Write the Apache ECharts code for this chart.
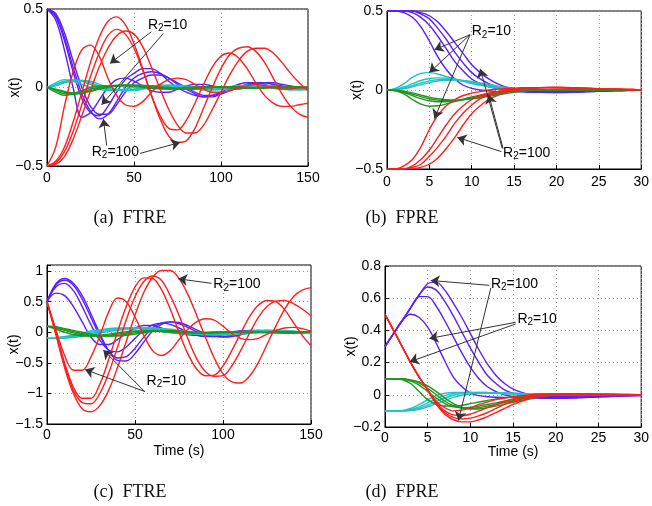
<!DOCTYPE html>
<html><head><meta charset="utf-8">
<script src="https://cdn.jsdelivr.net/npm/echarts@6/dist/echarts.min.js"></script>
<style>html,body{margin:0;padding:0;background:#fff}#c{width:652px;height:506px}</style>
</head><body><div id="c"></div>
<script>
// ---------- x samples ----------
const tLong = [0,5,10,15,20,25,30,35,40,45,50,55,60,65,70,75,80,85,90,95,100,105,110,115,120,125,130,135,140,145,150];
const tShort = [0,1,2,3,4,5,6,7,8,9,10,11,12,13,14,15,16,17,18,19,20,21,22,23,24,25,26,27,28,29,30];

// ---------- tick labels ----------
const aXTicks = [0,50,100,150];   const aYTicks = [-0.5,0,0.5];
const bXTicks = [0,5,10,15,20,25,30]; const bYTicks = [-0.5,0,0.5];
const cXTicks = [0,50,100,150];   const cYTicks = [-1.5,-1,-0.5,0,0.5,1]; const cYMax = 1.1;
const dXTicks = [0,5,10,15,20,25,30]; const dYTicks = [-0.2,0,0.2,0.4,0.6,0.8];

// ---------- panel (a) FTRE ----------
const aBlue = [
 [0.50,0.43,0.24,0.00,-0.19,-0.16,-0.08,0.00,0.05,0.06,0.04,0.01,-0.02,-0.03,-0.03,-0.01,0.01,0.02,0.02,0.01,0.00,-0.01,-0.01,0.00,0.01,0.01,0.01,0.00,0.00,0.00,0.00],
 [0.50,0.45,0.30,0.10,-0.07,-0.16,-0.18,-0.12,-0.03,0.05,0.09,0.12,0.12,0.09,0.04,0.00,-0.03,-0.05,-0.06,-0.05,-0.03,0.00,0.02,0.03,0.03,0.02,0.00,-0.01,-0.01,-0.01,0.00],
 [0.50,0.46,0.32,0.13,-0.04,-0.15,-0.20,-0.17,-0.09,0.00,0.06,0.09,0.10,0.09,0.06,0.02,-0.01,-0.04,-0.06,-0.06,-0.04,-0.02,0.00,0.02,0.03,0.03,0.02,0.01,0.00,-0.01,-0.01],
 [0.50,0.47,0.35,0.17,0.00,-0.12,-0.17,-0.17,-0.11,-0.03,0.03,0.06,0.08,0.08,0.06,0.03,0.00,-0.03,-0.05,-0.05,-0.04,-0.02,0.00,0.02,0.03,0.03,0.03,0.02,0.01,0.00,-0.01]
];
const aRed = [
 [-0.50,-0.38,-0.12,0.10,0.24,0.27,0.20,0.06,-0.05,-0.11,-0.12,-0.09,-0.03,0.02,0.05,0.06,0.05,0.02,-0.01,-0.03,-0.03,-0.02,0.00,0.01,0.02,0.01,0.00,-0.01,-0.01,0.00,0.00],
 [-0.50,-0.47,-0.38,-0.22,-0.03,0.16,0.32,0.42,0.45,0.40,0.28,0.12,-0.05,-0.18,-0.26,-0.27,-0.21,-0.10,0.02,0.13,0.20,0.22,0.19,0.12,0.03,-0.05,-0.10,-0.12,-0.12,-0.11,-0.10],
 [-0.50,-0.48,-0.41,-0.28,-0.11,0.07,0.22,0.33,0.37,0.34,0.25,0.11,-0.05,-0.20,-0.31,-0.35,-0.34,-0.26,-0.13,0.00,0.12,0.21,0.25,0.26,0.23,0.16,0.06,-0.04,-0.12,-0.17,-0.19],
 [-0.50,-0.49,-0.44,-0.33,-0.18,-0.02,0.13,0.25,0.33,0.36,0.34,0.26,0.13,-0.01,-0.14,-0.24,-0.29,-0.29,-0.24,-0.14,-0.03,0.08,0.17,0.23,0.25,0.25,0.22,0.16,0.09,0.03,-0.02]
];
const aGreen = [
 [0,-0.03,-0.05,-0.04,-0.02,0,0.01,0.01,0.01,0.01,0.01,0,-0.005,-0.01,-0.01,-0.005,0,0.005,0.005,0.005,0,0,-0.005,-0.005,0,0,0.005,0.005,0,0,0],
 [0,-0.02,-0.04,-0.045,-0.03,-0.01,0,0.01,0.015,0.015,0.01,0.01,0,-0.005,-0.01,-0.01,-0.005,0,0.005,0.005,0.005,0,-0.005,-0.005,-0.005,0,0.005,0.005,0.005,0,0],
 [0,-0.015,-0.03,-0.04,-0.035,-0.02,-0.005,0.005,0.01,0.015,0.015,0.01,0.005,0,-0.005,-0.01,-0.01,-0.005,0,0.005,0.005,0.005,0,-0.005,-0.005,0,0,0.005,0.005,0,0],
 [0,-0.01,-0.025,-0.035,-0.035,-0.025,-0.01,0,0.01,0.015,0.015,0.015,0.01,0.005,0,-0.005,-0.01,-0.01,-0.005,0,0.005,0.005,0.005,0,-0.005,-0.005,0,0,0.005,0.005,0]
];
const aCyan = [
 [0,0.03,0.05,0.04,0.02,0,-0.01,-0.02,-0.015,-0.01,0,0.005,0.01,0.01,0.005,0,-0.005,-0.01,-0.01,-0.005,0,0.005,0.01,0.01,0.005,0,-0.005,-0.01,-0.01,-0.005,0],
 [0,0.02,0.04,0.05,0.04,0.02,0,-0.01,-0.02,-0.02,-0.01,0,0.01,0.015,0.01,0.005,-0.005,-0.01,-0.015,-0.01,-0.005,0.005,0.01,0.015,0.01,0.005,-0.005,-0.01,-0.015,-0.01,-0.005],
 [0,0.015,0.035,0.045,0.045,0.03,0.01,-0.005,-0.015,-0.02,-0.015,-0.005,0.005,0.015,0.015,0.01,0,-0.01,-0.015,-0.015,-0.01,0,0.01,0.015,0.015,0.01,0,-0.01,-0.015,-0.015,-0.01],
 [0,0.01,0.03,0.04,0.045,0.04,0.02,0.005,-0.01,-0.02,-0.02,-0.01,0,0.01,0.015,0.015,0.01,0,-0.01,-0.015,-0.015,-0.01,0,0.01,0.015,0.015,0.01,0,-0.01,-0.015,-0.015]
];
const aLabels = [{x:58, y:0.40, v:'10'}, {x:25.7, y:-0.41, v:'100'}];
const aArrows = [[[60,0.355],[36.2,0.153]], [[66.9,0.345],[31.4,-0.11]], [[34.3,-0.37],[32.4,-0.2]], [[53.4,-0.42],[76.4,-0.35]]];

// ---------- panel (b) FPRE ----------
const bBlue = [
 [0.5,0.5,0.49,0.46,0.40,0.31,0.21,0.13,0.07,0.03,0.01,0,-0.005,-0.01,-0.01,-0.01,-0.01,-0.01,-0.01,-0.01,-0.01,-0.01,-0.008,-0.006,-0.005,-0.004,-0.003,-0.002,-0.001,0,0],
 [0.5,0.5,0.5,0.49,0.46,0.41,0.34,0.26,0.18,0.12,0.07,0.04,0.02,0.01,0,-0.01,-0.012,-0.014,-0.015,-0.015,-0.014,-0.013,-0.012,-0.01,-0.008,-0.006,-0.005,-0.004,-0.003,-0.002,-0.001],
 [0.5,0.5,0.5,0.5,0.48,0.45,0.39,0.32,0.24,0.17,0.11,0.07,0.04,0.02,0.01,0,-0.008,-0.012,-0.015,-0.016,-0.016,-0.015,-0.013,-0.011,-0.009,-0.007,-0.006,-0.004,-0.003,-0.002,-0.001],
 [0.5,0.5,0.5,0.5,0.49,0.47,0.43,0.37,0.30,0.23,0.16,0.11,0.07,0.04,0.02,0.01,0,-0.008,-0.012,-0.015,-0.016,-0.016,-0.015,-0.013,-0.011,-0.009,-0.007,-0.005,-0.004,-0.003,-0.002]
];
const bRed = [
 [-0.5,-0.5,-0.48,-0.44,-0.36,-0.25,-0.16,-0.10,-0.06,-0.035,-0.02,-0.01,0,0.005,0.01,0.012,0.014,0.015,0.015,0.015,0.014,0.012,0.01,0.008,0.007,0.006,0.005,0.004,0.003,0.002,0.001],
 [-0.5,-0.5,-0.5,-0.48,-0.44,-0.38,-0.30,-0.22,-0.15,-0.10,-0.06,-0.035,-0.02,-0.01,0,0.005,0.01,0.012,0.015,0.016,0.016,0.015,0.013,0.011,0.009,0.007,0.006,0.005,0.004,0.003,0.002],
 [-0.5,-0.5,-0.5,-0.49,-0.47,-0.42,-0.36,-0.29,-0.21,-0.145,-0.095,-0.055,-0.03,-0.015,-0.005,0.005,0.01,0.013,0.015,0.016,0.016,0.015,0.014,0.012,0.01,0.008,0.006,0.005,0.004,0.003,0.002],
 [-0.5,-0.5,-0.5,-0.5,-0.49,-0.47,-0.43,-0.37,-0.30,-0.22,-0.15,-0.10,-0.06,-0.035,-0.015,-0.005,0.005,0.01,0.013,0.015,0.016,0.016,0.015,0.013,0.011,0.009,0.007,0.006,0.004,0.003,0.002]
];
const bGreen = [
 [0,-0.005,-0.025,-0.06,-0.09,-0.103,-0.10,-0.088,-0.073,-0.058,-0.044,-0.032,-0.021,-0.012,-0.005,0,0.003,0.003,0.002,0.001,0,0,0,0,0,0,0,0,0,0,0],
 [0,-0.004,-0.016,-0.036,-0.055,-0.068,-0.074,-0.074,-0.069,-0.06,-0.05,-0.039,-0.028,-0.018,-0.01,-0.004,0,0.002,0.002,0.001,0,0,0,0,0,0,0,0,0,0,0],
 [0,-0.003,-0.011,-0.026,-0.042,-0.055,-0.064,-0.068,-0.067,-0.062,-0.054,-0.045,-0.035,-0.025,-0.016,-0.009,-0.004,0,0.001,0.001,0,0,0,0,0,0,0,0,0,0,0],
 [0,-0.002,-0.007,-0.018,-0.032,-0.045,-0.055,-0.061,-0.063,-0.061,-0.056,-0.049,-0.04,-0.031,-0.022,-0.014,-0.008,-0.003,0,0.001,0,0,0,0,0,0,0,0,0,0,0]
];
const bCyan = [
 [0,0.01,0.04,0.08,0.105,0.11,0.10,0.085,0.07,0.055,0.04,0.03,0.02,0.01,0.005,0,0,0,0,0,0,0,0,0,0,0,0,0,0,0,0],
 [0,0.005,0.02,0.04,0.06,0.073,0.077,0.075,0.068,0.058,0.047,0.036,0.025,0.016,0.008,0.003,0,0,0,0,0,0,0,0,0,0,0,0,0,0,0],
 [0,0.003,0.012,0.028,0.045,0.058,0.066,0.068,0.065,0.058,0.049,0.039,0.029,0.019,0.011,0.005,0.001,0,0,0,0,0,0,0,0,0,0,0,0,0,0],
 [0,0.002,0.008,0.02,0.034,0.047,0.057,0.062,0.063,0.06,0.054,0.045,0.035,0.025,0.016,0.009,0.004,0.001,0,0,0,0,0,0,0,0,0,0,0,0,0]
];
const bLabels = [{x:10.0, y:0.37, v:'10'}, {x:13.7, y:-0.4, v:'100'}];
const bArrows = [[[9.8,0.35],[5.6,0.254]], [[9.8,0.35],[5.0,0.11]], [[9.8,0.35],[5.6,-0.18]],
                 [[13.5,-0.39],[8.3,-0.30]], [[13.6,-0.37],[11.0,0.134]], [[13.7,-0.37],[12.0,-0.03]]];

// ---------- panel (c) FTRE ----------
const cBlue = [
 [0.5,0.64,0.6,0.42,0.17,-0.08,-0.2,-0.2,-0.12,-0.02,0.07,0.11,0.11,0.07,0.02,-0.02,-0.04,-0.05,-0.04,-0.02,0,0.01,0.02,0.02,0.01,0,-0.01,-0.01,0,0.01,0.01],
 [0.5,0.74,0.8,0.68,0.42,0.12,-0.13,-0.29,-0.32,-0.24,-0.1,0.03,0.12,0.15,0.13,0.07,0,-0.05,-0.07,-0.07,-0.04,-0.01,0.02,0.03,0.03,0.02,0,-0.01,-0.02,-0.01,0],
 [0.5,0.77,0.85,0.77,0.54,0.24,-0.06,-0.3,-0.42,-0.4,-0.26,-0.08,0.07,0.15,0.17,0.14,0.08,0.01,-0.04,-0.07,-0.07,-0.05,-0.02,0.01,0.03,0.03,0.02,0,-0.01,-0.02,-0.01],
 [0.5,0.79,0.88,0.8,0.6,0.3,-0.02,-0.3,-0.46,-0.47,-0.35,-0.16,0.02,0.13,0.17,0.16,0.11,0.04,-0.02,-0.06,-0.08,-0.07,-0.04,-0.01,0.02,0.03,0.03,0.02,0,-0.01,-0.02]
];
const cRed = [
 [0.5,0.05,-0.38,-0.62,-0.62,-0.4,-0.06,0.33,0.56,0.5,0.25,-0.05,-0.3,-0.38,-0.3,-0.12,0.05,0.17,0.22,0.2,0.1,-0.02,-0.1,-0.12,-0.1,-0.03,0.03,0.07,0.08,0.06,0.02],
 [0.5,0,-0.5,-0.9,-1.08,-1.08,-0.85,-0.45,0,0.42,0.74,0.89,0.88,0.7,0.38,0,-0.35,-0.6,-0.71,-0.7,-0.55,-0.3,-0.02,0.25,0.44,0.52,0.5,0.37,0.16,-0.05,-0.22],
 [0.5,-0.02,-0.55,-0.95,-1.15,-1.17,-1.0,-0.67,-0.25,0.2,0.58,0.83,0.92,0.85,0.6,0.28,-0.1,-0.43,-0.64,-0.72,-0.71,-0.55,-0.3,-0.02,0.24,0.42,0.51,0.52,0.47,0.38,0.27],
 [0.5,-0.03,-0.58,-1.0,-1.25,-1.3,-1.2,-0.95,-0.58,-0.15,0.28,0.65,0.9,1.01,1.01,0.88,0.62,0.28,-0.08,-0.42,-0.68,-0.81,-0.83,-0.72,-0.5,-0.2,0.1,0.38,0.58,0.69,0.73]
];
const cGreen = [
 [0.1,0.05,0,-0.04,-0.06,-0.06,-0.05,-0.03,-0.01,0.01,0.02,0.02,0.02,0.01,0,-0.01,-0.01,-0.005,0,0.005,0.005,0,-0.005,-0.005,0,0,0.005,0,0,0,0],
 [0.1,0.07,0.03,-0.01,-0.04,-0.06,-0.06,-0.05,-0.03,-0.01,0.01,0.02,0.03,0.02,0.01,0,-0.01,-0.01,-0.01,0,0.005,0.005,0,-0.005,-0.005,0,0.005,0.005,0,0,0],
 [0.1,0.08,0.05,0.01,-0.02,-0.05,-0.06,-0.06,-0.05,-0.03,-0.01,0.01,0.02,0.03,0.02,0.01,0,-0.01,-0.01,-0.01,0,0.005,0.005,0,-0.005,-0.005,0,0.005,0.005,0,0],
 [0.1,0.09,0.06,0.03,0,-0.03,-0.05,-0.06,-0.06,-0.05,-0.03,-0.01,0.01,0.02,0.03,0.02,0.01,0,-0.01,-0.01,-0.01,0,0.005,0.005,0,-0.005,-0.005,0,0.005,0.005,0]
];
const cCyan = [
 [-0.1,-0.09,-0.07,-0.04,-0.01,0.02,0.04,0.06,0.07,0.07,0.06,0.05,0.03,0.01,-0.01,-0.02,-0.03,-0.03,-0.03,-0.02,-0.01,0,0.01,0.02,0.02,0.02,0.01,0,-0.01,-0.01,-0.01],
 [-0.1,-0.095,-0.08,-0.06,-0.03,0,0.03,0.05,0.06,0.07,0.07,0.06,0.05,0.03,0.01,-0.01,-0.02,-0.03,-0.04,-0.04,-0.03,-0.02,0,0.01,0.02,0.03,0.02,0.01,0,-0.01,-0.02],
 [-0.1,-0.1,-0.09,-0.07,-0.05,-0.02,0.01,0.03,0.05,0.06,0.07,0.07,0.06,0.05,0.03,0.01,-0.01,-0.02,-0.03,-0.04,-0.04,-0.03,-0.02,0,0.01,0.02,0.03,0.02,0.01,0,-0.01],
 [-0.1,-0.1,-0.095,-0.085,-0.065,-0.04,-0.01,0.01,0.03,0.05,0.06,0.07,0.07,0.06,0.05,0.03,0.01,-0.01,-0.02,-0.03,-0.04,-0.04,-0.03,-0.02,0,0.01,0.02,0.03,0.02,0.01,0]
];
const cLabels = [{x:94.5, y:0.78, v:'100'}, {x:56.6, y:-0.80, v:'10'}];
const cArrows = [[[93.5,0.80],[74.6,0.874]], [[55.7,-0.97],[21.6,-0.61]], [[55.5,-0.97],[32,-0.29]]];

// ---------- panel (d) FPRE ----------
const dBlue = [
 [0.3,0.38,0.46,0.5,0.48,0.42,0.32,0.21,0.11,0.05,0.01,-0.005,-0.012,-0.015,-0.016,-0.016,-0.015,-0.014,-0.013,-0.012,-0.011,-0.01,-0.009,-0.008,-0.007,-0.006,-0.005,-0.004,-0.003,-0.002,-0.002],
 [0.3,0.38,0.46,0.54,0.61,0.61,0.55,0.46,0.36,0.26,0.17,0.1,0.05,0.02,0,-0.01,-0.015,-0.018,-0.02,-0.02,-0.019,-0.017,-0.015,-0.013,-0.011,-0.009,-0.008,-0.006,-0.005,-0.004,-0.003],
 [0.3,0.38,0.46,0.54,0.62,0.67,0.65,0.58,0.49,0.39,0.29,0.2,0.12,0.07,0.03,0.01,-0.005,-0.015,-0.02,-0.021,-0.021,-0.02,-0.018,-0.016,-0.014,-0.012,-0.01,-0.008,-0.006,-0.005,-0.004],
 [0.3,0.38,0.46,0.54,0.62,0.69,0.70,0.65,0.57,0.48,0.38,0.28,0.19,0.12,0.07,0.035,0.015,0,-0.01,-0.015,-0.02,-0.021,-0.02,-0.018,-0.016,-0.014,-0.012,-0.01,-0.008,-0.006,-0.005]
];
const dRed = [
 [0.5,0.4,0.3,0.2,0.11,0.03,-0.04,-0.08,-0.1,-0.095,-0.08,-0.06,-0.045,-0.03,-0.02,-0.01,-0.005,0,0.005,0.005,0.005,0.005,0.004,0.003,0.003,0.002,0.002,0.001,0.001,0,0],
 [0.5,0.4,0.3,0.2,0.11,0.03,-0.05,-0.1,-0.125,-0.13,-0.12,-0.1,-0.08,-0.06,-0.04,-0.025,-0.015,-0.005,0,0.005,0.005,0.005,0.005,0.004,0.003,0.003,0.002,0.002,0.001,0.001,0],
 [0.5,0.4,0.3,0.2,0.11,0.03,-0.05,-0.11,-0.14,-0.15,-0.145,-0.13,-0.11,-0.085,-0.06,-0.04,-0.025,-0.012,-0.005,0,0.005,0.005,0.005,0.005,0.004,0.003,0.003,0.002,0.002,0.001,0.001],
 [0.5,0.4,0.3,0.2,0.11,0.03,-0.06,-0.12,-0.155,-0.168,-0.168,-0.155,-0.135,-0.11,-0.085,-0.06,-0.04,-0.025,-0.013,-0.005,0,0.005,0.005,0.005,0.005,0.004,0.003,0.003,0.002,0.002,0.001]
];
const dGreen = [
 [0.1,0.1,0.095,0.07,0.02,-0.03,-0.06,-0.07,-0.07,-0.065,-0.055,-0.045,-0.035,-0.025,-0.02,-0.015,-0.01,-0.005,0,0,0,0,0,0,0,0,0,0,0,0,0],
 [0.1,0.1,0.098,0.085,0.06,0.02,-0.02,-0.055,-0.075,-0.08,-0.078,-0.07,-0.06,-0.05,-0.04,-0.03,-0.02,-0.012,-0.006,-0.002,0,0,0,0,0,0,0,0,0,0,0],
 [0.1,0.1,0.099,0.09,0.072,0.04,0,-0.04,-0.068,-0.082,-0.085,-0.08,-0.07,-0.06,-0.048,-0.037,-0.027,-0.018,-0.01,-0.004,0,0,0,0,0,0,0,0,0,0,0],
 [0.1,0.1,0.1,0.093,0.08,0.055,0.02,-0.02,-0.055,-0.078,-0.088,-0.088,-0.08,-0.07,-0.058,-0.046,-0.034,-0.023,-0.014,-0.007,-0.002,0,0,0,0,0,0,0,0,0,0]
];
const dCyan = [
 [-0.1,-0.1,-0.098,-0.085,-0.06,-0.03,-0.005,0.01,0.015,0.015,0.015,0.012,0.01,0.008,0.006,0.004,0.003,0.002,0.002,0.002,0.002,0.001,0.001,0.001,0.001,0,0,0,0,0,0],
 [-0.1,-0.1,-0.099,-0.092,-0.075,-0.05,-0.025,-0.005,0.008,0.013,0.015,0.015,0.013,0.011,0.009,0.007,0.005,0.004,0.003,0.002,0.002,0.001,0.001,0.001,0.001,0,0,0,0,0,0],
 [-0.1,-0.1,-0.1,-0.096,-0.085,-0.065,-0.042,-0.02,-0.003,0.007,0.012,0.014,0.014,0.013,0.011,0.009,0.007,0.005,0.004,0.003,0.002,0.002,0.001,0.001,0.001,0,0,0,0,0,0],
 [-0.1,-0.1,-0.1,-0.098,-0.09,-0.075,-0.055,-0.035,-0.016,-0.003,0.005,0.01,0.012,0.012,0.011,0.01,0.008,0.006,0.005,0.004,0.003,0.002,0.002,0.001,0.001,0.001,0,0,0,0,0]
];
const dLabels = [{x:12.4, y:0.69, v:'100'}, {x:15.5, y:0.47, v:'10'}];
const dArrows = [[[12.2,0.68],[5.35,0.71]], [[12.4,0.665],[8.6,-0.16]], [[15.3,0.45],[5.2,0.35]], [[15.3,0.44],[2.9,0.205]]];

const captions = ['(a)  FTRE','(b)  FPRE','(c)  FTRE','(d)  FPRE'];

// ---------- build ----------
const COL = {blue:'#5a1eff', cyan:'#1ec3c3', green:'#1e961e', red:'#ff1e1e'};
const FONT = 'Liberation Sans';
const FS = 14;
const panels = [
 {t:tLong,  blue:aBlue, cyan:aCyan, green:aGreen, red:aRed, xt:aXTicks, yt:aYTicks, grid:{left:47,top:9,width:261,height:157}, nameGap:25, xName:'', xm:5, labels:aLabels, arrows:aArrows, cap:[130,218]},
 {t:tShort, blue:bBlue, cyan:bCyan, green:bGreen, red:bRed, xt:bXTicks, yt:bYTicks, grid:{left:387,top:11,width:259,height:158}, nameGap:23, xName:'', xm:6, labels:bLabels, arrows:bArrows, cap:[402,218]},
 {t:tLong,  blue:cBlue, cyan:cCyan, green:cGreen, red:cRed, xt:cXTicks, yt:cYTicks, yMax:cYMax, grid:{left:47,top:265,width:264,height:159}, nameGap:26, xName:'Time (s)', xm:4, xGap:20, labels:cLabels, arrows:cArrows, cap:[130,492]},
 {t:tShort, blue:dBlue, cyan:dCyan, green:dGreen, red:dRed, xt:dXTicks, yt:dYTicks, grid:{left:385,top:266,width:262,height:161}, nameGap:27, xName:'Time (s)', xm:4, xGap:18, labels:dLabels, arrows:dArrows, cap:[402,492]}
];
function fmtNum(v){ const a = Math.abs(v); const s = String(Number(a.toFixed(3))); return (v < -1e-9 ? '\u2212' : '') + s; }
function tickFmt(ticks){ return v => ticks.some(t => Math.abs(t - v) < 1e-9) ? fmtNum(v) : ''; }

const grids = [], xAxes = [], yAxes = [], series = [];
const splitStyle = {show:true, lineStyle:{color:'#9a9a9a', width:1, type:[1,3]}};
panels.forEach((p, i) => {
  grids.push(Object.assign({show:true, borderColor:'#000', borderWidth:1, backgroundColor:'transparent'}, p.grid));
  xAxes.push({type:'value', gridIndex:i, min:p.xt[0], max:p.xt[p.xt.length-1], interval:p.xt[1]-p.xt[0],
    axisLine:{show:true, onZero:false, lineStyle:{color:'#000', width:1}},
    axisTick:{show:true, inside:true, length:4, lineStyle:{color:'#000'}},
    axisLabel:{color:'#000', fontSize:FS, fontFamily:FONT, margin:p.xm, formatter:tickFmt(p.xt), showMaxLabel:true, hideOverlap:false},
    splitLine:splitStyle,
    name:p.xName, nameLocation:'middle', nameGap:p.xGap || 20, nameMoveOverlap:false,
    nameTextStyle:{color:'#000', fontSize:FS, fontFamily:FONT}});
  yAxes.push({type:'value', gridIndex:i, min:p.yt[0], max:(p.yMax !== undefined ? p.yMax : p.yt[p.yt.length-1]), interval:p.yt[1]-p.yt[0],
    axisLine:{show:true, onZero:false, lineStyle:{color:'#000', width:1}},
    axisTick:{show:true, inside:true, length:4, lineStyle:{color:'#000'}},
    axisLabel:{color:'#000', fontSize:FS, fontFamily:FONT, margin:4, formatter:tickFmt(p.yt), hideOverlap:false},
    splitLine:splitStyle,
    name:'x(t)', nameLocation:'middle', nameGap:p.nameGap, nameMoveOverlap:false,
    nameTextStyle:{color:'#000', fontSize:FS, fontFamily:FONT}});
  ['blue','cyan','green','red'].forEach(c => {
    p[c].forEach(ys => {
      series.push({type:'line', xAxisIndex:i, yAxisIndex:i, data:p.t.map((x, k) => [x, ys[k]]),
        smooth:0.35, showSymbol:false, symbol:'none', silent:true, animation:false,
        lineStyle:{color:COL[c], width:1.4}, emphasis:{disabled:true}});
    });
  });
  series.push({type:'line', xAxisIndex:i, yAxisIndex:i, data:[], silent:true, animation:false, z:10,
    markLine:{silent:true, animation:false, symbol:['none','arrow'], symbolSize:9,
      label:{show:false}, emphasis:{disabled:true},
      lineStyle:{color:'#333', width:1, type:'solid'},
      data:p.arrows.map(a => [{coord:a[0]}, {coord:a[1]}])},
    markPoint:{silent:true, animation:false, symbol:'circle', symbolSize:0,
      data:p.labels.map(l => ({coord:[l.x, l.y], itemStyle:{color:'transparent'},
        label:{show:true, position:'right', distance:0, formatter:'R{s|2}=' + l.v,
          color:'#000', fontSize:FS, fontFamily:FONT, lineHeight:17,
          rich:{s:{fontSize:10, lineHeight:10, verticalAlign:'bottom', color:'#000', fontFamily:FONT}}}}))}
  });
});

const chart = echarts.init(document.getElementById('c'), null, {renderer:'canvas'});
chart.setOption({
  animation:false,
  backgroundColor:'#fff',
  grid:grids, xAxis:xAxes, yAxis:yAxes, series:series,
  graphic:panels.map((p, i) => ({type:'text', x:p.cap[0], y:p.cap[1], silent:true,
    style:{text:captions[i], font:'18px "Liberation Serif"', fill:'#111', align:'center', textAlign:'center', verticalAlign:'middle', textVerticalAlign:'middle'}}))
});
</script>
</body></html>
